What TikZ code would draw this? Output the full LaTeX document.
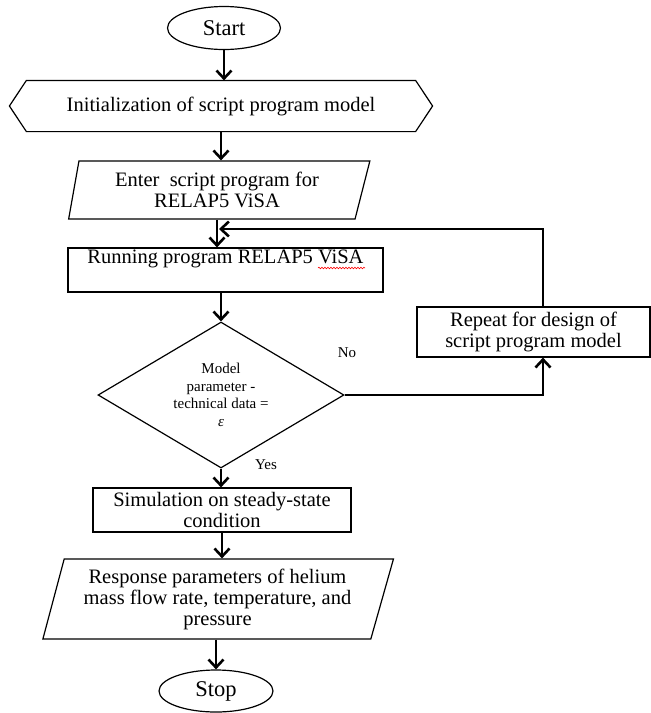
\documentclass[tikz,border=0pt]{standalone}
\usepackage{fontspec}
\setmainfont{Liberation Serif}
\usetikzlibrary{shapes.geometric,arrows.meta,decorations.pathmorphing}

\begin{document}
\begin{tikzpicture}[x=1pt,y=-1pt,
    box/.style={draw, line width=1.2pt, inner sep=0pt, align=center, font=\fontsize{20.5}{21}\selectfont},
    term/.style={box, ellipse, font=\fontsize{22.5}{24}\selectfont},
    iobox/.style={box, trapezium, trapezium stretches=true},
    pfeil/.style={line width=2.6pt, -{Straight Barb[length=8pt,width=15pt]}},
    klein/.style={font=\fontsize{15}{17.5}\selectfont, align=center}]
        \useasboundingbox (0,0) rectangle (651,713);
        % Start
        \node[term, minimum width=113, minimum height=43] (start) at (224,28) {Start};
        % Initialisierung
        \node[box, draw=none, minimum width=388, minimum height=50] (init) at (221,106) {Initialization of script program model};
        \draw[line width=1.2pt]
        (init.north west) -- (init.north east) -- ([xshift=17pt]init.east)
        -- (init.south east) -- (init.south west) -- ([xshift=-17pt]init.west) -- cycle;
        % Eingabe
        \node[iobox, trapezium left angle=78, trapezium right angle=107, minimum width=302, minimum height=58] (enter) at (217,190) {Enter~ script program for\\RELAP5 ViSA};
        % Programmlauf
        \node[box, minimum width=315, minimum height=44] (run) at (225.5,270) {Running program RELAP5 ViSA\\\strut};
        \draw[red, line width=0.6pt, decorate, decoration={snake, amplitude=0.8pt, segment length=3pt}]
        (318,268) -- (365,268);
        % Entscheidung
        \node[box, diamond, shape aspect=1.68, minimum width=246, minimum height=146, klein] (dec) at (221,395) {Model\\parameter -\\technical data =\\{\itshape ε}};
        \node[klein] (nein) at (347,353) {No};
        \node[klein] (ja) at (266,465) {Yes};
        % Wiederholung
        \node[box, minimum width=233, minimum height=50] (rep) at (533.5,332) {Repeat for design of\\script program model};
        % Simulation
        \node[box, minimum width=258, minimum height=44] (sim) at (222,510) {Simulation on steady-state\\condition};
        % Ausgabe
        \node[iobox, trapezium left angle=73, trapezium right angle=108, minimum width=351, minimum height=80] (resp) at (217.5,599) {Response parameters of helium\\mass flow rate, temperature, and\\pressure};
        % Stop
        \node[term, minimum width=114, minimum height=42] (stop) at (216,691) {Stop};
        % Pfeile
        \draw[pfeil] (start) -- (start |- init.north);
        \draw[pfeil] (init) -- (init |- enter.north);
        \draw[pfeil] (enter.south) -- (enter.south |- run.north);
        \draw[pfeil] (dec.north |- run.south) -- (dec.north);
        \draw[pfeil] (dec.south) -- (dec.south |- sim.north);
        \draw[pfeil] (sim.south) -- (sim.south |- resp.north);
        \draw[pfeil] (stop |- resp.south) -- (stop);
        % Rueckfuehrung
        \coordinate (rueck) at (219,229);
        \draw[pfeil] (dec.east) -| ([xshift=9.5pt]rep.south);
        \draw[pfeil] ([xshift=9.5pt]rep.north) |- (rueck);
    \end{tikzpicture}
\end{document}
